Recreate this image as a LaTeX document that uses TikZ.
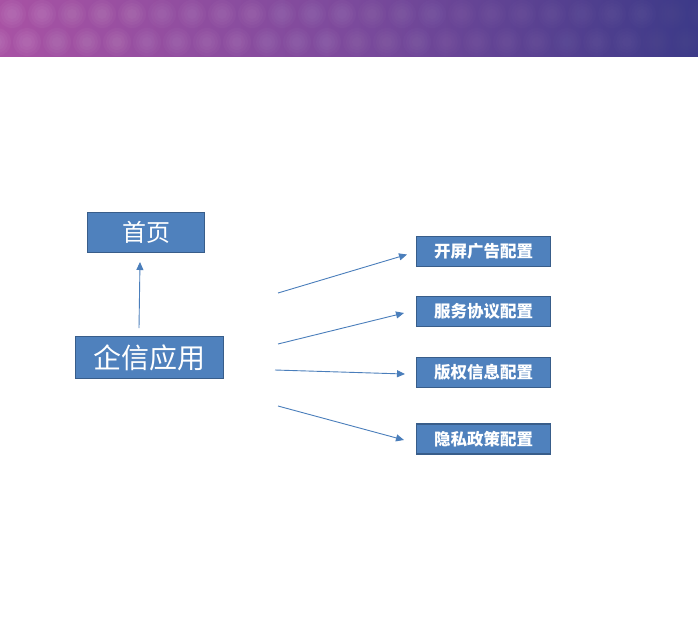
\documentclass[tikz,border=0pt]{standalone}
\usepackage{fontspec}
\newfontfamily\cjk{Noto Sans CJK SC}
\usetikzlibrary{arrows.meta}
\definecolor{boxfill}{HTML}{4F81BD}
\definecolor{boxline}{HTML}{385D8A}
\definecolor{arrowc}{HTML}{4A7EBB}
\definecolor{bannerL}{HTML}{A852A4}
\definecolor{bannerM}{HTML}{7C4A9C}
\definecolor{bannerR}{HTML}{3C3A88}
\tikzset{
  box/.style={draw=boxline, line width=1.5pt, fill=boxfill, text=white, inner sep=0pt, font=\cjk},
  smallbox/.style={box, minimum width=134pt, minimum height=30pt, font=\cjk\bfseries\fontsize{16.5}{16.5}\selectfont},
  conn/.style={draw=arrowc, line width=0.9pt, -{Triangle[length=8pt,width=7pt]}},
}
\begin{document}
\begin{tikzpicture}[x=1pt,y=-1pt]
\useasboundingbox (0,0) rectangle (698,625);
\fill[white] (0,0) rectangle (698,625);
% banner
\shade[left color=bannerL, right color=bannerM] (0,0) rectangle (350,56);
\shade[left color=bannerM, right color=bannerR] (350,0) rectangle (698,56);
\begin{scope}
\clip (0,0) rectangle (698,56);
\foreach \i in {0,...,24}{
  \pgfmathsetmacro\op{0.035*(1-\i/30)}
  \foreach \r in {14,11,8,5}{
    \fill[white, opacity=\op] (\i*30+12, 14) circle (\r);
    \fill[white, opacity=\op] (\i*30-3, 42) circle (\r);
  }
}
\end{scope}
% nodes
\node[box, minimum width=117pt, minimum height=40pt, font=\cjk\fontsize{24}{24}\selectfont] (home) at (146,232.5) {首页};
\node[box, minimum width=148pt, minimum height=42pt, font=\cjk\fontsize{28}{28}\selectfont] (app) at (149.5,357.5) {企信应用};
\node[smallbox] (b1) at (483.5,251.5) {开屏广告配置};
\node[smallbox] (b2) at (483.5,311.5) {服务协议配置};
\node[smallbox] (b3) at (483.5,372.5) {版权信息配置};
\node[smallbox] (b4) at (483.5,439) {隐私政策配置};
% connector ends
\coordinate (s0) at (139,328);
\coordinate (e0) at (140,262);
\coordinate (s1) at (278,293);
\coordinate (e1) at (407,254.5);
\coordinate (s2) at (278,344);
\coordinate (e2) at (404,313);
\coordinate (s3) at (275,370);
\coordinate (e3) at (405,374);
\coordinate (s4) at (278,406);
\coordinate (e4) at (404,440);
\draw[conn] (s0) -- (e0);
\draw[conn] (s1) -- (e1);
\draw[conn] (s2) -- (e2);
\draw[conn] (s3) -- (e3);
\draw[conn] (s4) -- (e4);
\end{tikzpicture}
\end{document}
